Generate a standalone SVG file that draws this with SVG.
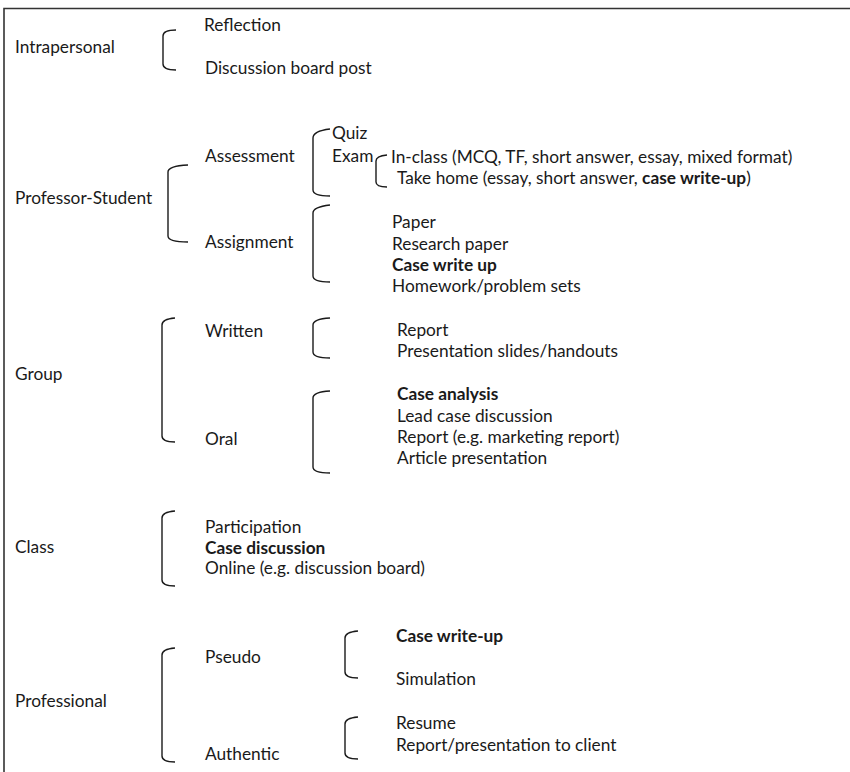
<svg xmlns="http://www.w3.org/2000/svg" width="850" height="772" viewBox="0 0 850 772">
<style>
text{font-family:Lato,"Open Sans","Liberation Sans",sans-serif;font-size:17.3px;fill:#1a1a1a}
.b{font-weight:bold}
.br{fill:none;stroke:#1a1a1a;stroke-width:1.4}
.frame{fill:none;stroke:#333;stroke-width:1.6}
</style>
<rect width="850" height="772" fill="#fff"/>
<path class="frame" d="M4,780 L4,8.5 L860,8.5"/>
<g id="connectors">
<path class="br" d="M176,30 Q163,30 163,36 L163,64 Q163,70 176,70"/>
<path class="br" d="M188,165 Q168,166 168,172 L168,236 Q168,242 188,242"/>
<path class="br" d="M330,129 Q313,131 313,138 L313,190 Q313,196 330,196"/>
<path class="br" d="M387,155 Q376,156 376,161 L376,182 Q376,187 387,187"/>
<path class="br" d="M330,205 Q313,207 313,213 L313,276 Q313,282 330,282"/>
<path class="br" d="M175,318 Q162,319 162,325 L162,436 Q162,442 175,442"/>
<path class="br" d="M330,318 Q313,319 313,325 L313,352 Q313,358 330,358"/>
<path class="br" d="M330,391 Q313,392 313,398 L313,467 Q313,473 330,473"/>
<path class="br" d="M175,511 Q162,512 162,518 L162,580 Q162,586 175,586"/>
<path class="br" d="M175,648 Q162,649 162,655 L162,756 Q162,762 175,762"/>
<path class="br" d="M358,631 Q345,632 345,638 L345,672 Q345,678 358,678"/>
<path class="br" d="M358,717 Q345,718 345,724 L345,753 Q345,759 358,759"/>
</g>
<g id="intrapersonal"><text x="15" y="53">Intrapersonal</text></g>
<g id="reflection"><text x="204" y="31">Reflection</text></g>
<g id="discussion-board-post"><text x="205" y="74">Discussion board post</text></g>
<g id="professor-student"><text x="15" y="204">Professor-Student</text></g>
<g id="assessment"><text x="205" y="162">Assessment</text></g>
<g id="quiz"><text x="332" y="139">Quiz</text></g>
<g id="exam"><text x="332" y="162">Exam</text></g>
<g id="in-class"><text x="391" y="163">In-class (MCQ, TF, short answer, essay, mixed format)</text></g>
<g id="take-home"><text x="397" y="184">Take home (essay, short answer, <tspan class="b">case write-up</tspan>)</text></g>
<g id="assignment"><text x="205" y="248">Assignment</text></g>
<g id="paper"><text x="392" y="228">Paper</text></g>
<g id="research-paper"><text x="392" y="250">Research paper</text></g>
<g id="case-write-up"><text class="b" x="392" y="271">Case write up</text></g>
<g id="homework"><text x="392" y="292">Homework/problem sets</text></g>
<g id="group"><text x="15" y="380">Group</text></g>
<g id="written"><text x="205" y="337">Written</text></g>
<g id="report"><text x="397" y="336">Report</text></g>
<g id="slides"><text x="397" y="357">Presentation slides/handouts</text></g>
<g id="oral"><text x="205" y="445">Oral</text></g>
<g id="case-analysis"><text class="b" x="397" y="400">Case analysis</text></g>
<g id="lead-case"><text x="397" y="422">Lead case discussion</text></g>
<g id="report-marketing"><text x="397" y="443">Report (e.g. marketing report)</text></g>
<g id="article"><text x="397" y="464">Article presentation</text></g>
<g id="class"><text x="15" y="553">Class</text></g>
<g id="participation"><text x="205" y="533">Participation</text></g>
<g id="case-discussion"><text class="b" x="205" y="554">Case discussion</text></g>
<g id="online"><text x="205" y="574">Online (e.g. discussion board)</text></g>
<g id="professional"><text x="15" y="707">Professional</text></g>
<g id="pseudo"><text x="205" y="663">Pseudo</text></g>
<g id="case-write-up-2"><text class="b" x="396" y="642">Case write-up</text></g>
<g id="simulation"><text x="396" y="685">Simulation</text></g>
<g id="authentic"><text x="205" y="760">Authentic</text></g>
<g id="resume"><text x="396" y="729">Resume</text></g>
<g id="report-client"><text x="396" y="751">Report/presentation to client</text></g>
</svg>
